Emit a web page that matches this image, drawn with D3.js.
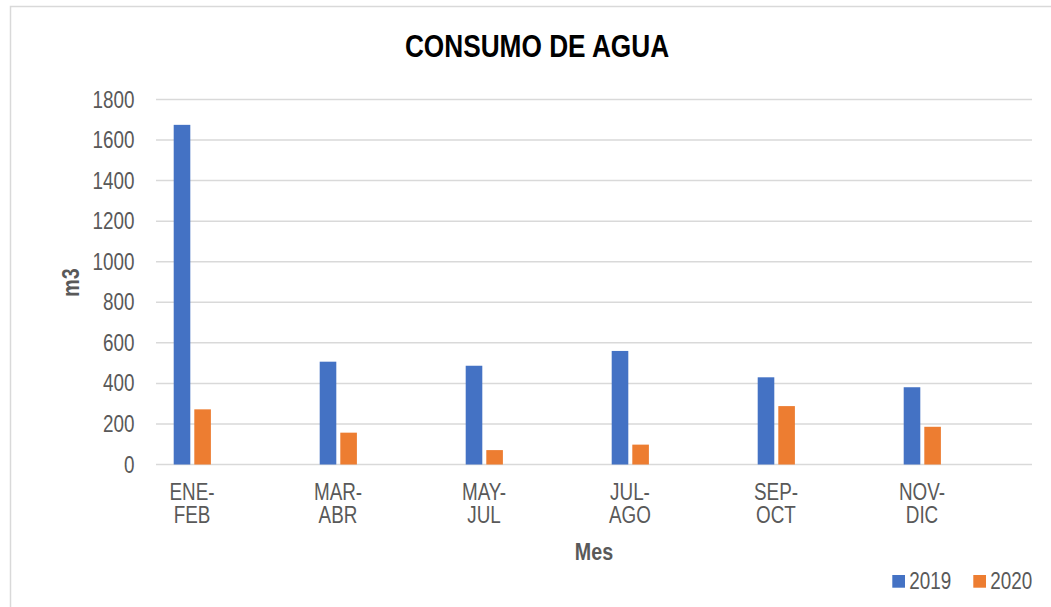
<!DOCTYPE html>
<html>
<head>
<meta charset="utf-8">
<script src="https://cdn.jsdelivr.net/npm/d3@7"></script>
<style>
  html, body { margin: 0; padding: 0; background: #fff; }
  svg { display: block; font-family: "Liberation Sans", Arial, sans-serif; }
</style>
</head>
<body>
<div id="container"></div>
<script>
// data
const months = [["ENE-", "FEB"], ["MAR-", "ABR"], ["MAY-", "JUL"], ["JUL-", "AGO"], ["SEP-", "OCT"], ["NOV-", "DIC"]];
const years = ["2019", "2020"];
const values2019 = [1675, 507, 487, 560, 430, 381];
const values2020 = [272, 157, 71, 98, 288, 186];
const yTicks = [0, 200, 400, 600, 800, 1000, 1200, 1400, 1600, 1800];
const colors = ["#4472c4", "#ed7d31"];

const width = 1051, height = 607;
const margin = {top: 99.5, right: 19, bottom: 142.5, left: 156};
const narrow = 0.82; // Arial Narrow look

const svg = d3.select("#container").append("svg")
    .attr("width", width)
    .attr("height", height);

// chart frame
svg.append("rect")
    .attr("x", 10.5).attr("y", 6.5)
    .attr("width", 1100).attr("height", 700)
    .attr("fill", "#fff")
    .attr("stroke", "#d9d9d9")
    .attr("stroke-width", 1.5);

const keys = months.map(d => d.join(""));
const x = d3.scalePoint(keys, [192, 922]);
const y = d3.scaleLinear([0, 1800], [height - margin.bottom, margin.top]);

// narrow text helper
function label(g, str, tx, ty, opts) {
  const o = Object.assign({size: 23, weight: "normal", anchor: "middle", fill: "#595959", rotate: 0}, opts);
  return g.append("text")
      .attr("transform", `translate(${tx},${ty}) rotate(${o.rotate}) scale(${narrow},1)`)
      .attr("text-anchor", o.anchor)
      .attr("font-size", o.size)
      .attr("font-weight", o.weight)
      .attr("fill", o.fill)
      .text(str);
}

// grid
svg.append("g")
    .attr("stroke", "#d9d9d9")
    .attr("stroke-width", 1.5)
  .selectAll("line")
  .data(yTicks)
  .join("line")
    .attr("x1", margin.left)
    .attr("x2", width - margin.right)
    .attr("y1", d => y(d))
    .attr("y2", d => y(d));

// y tick labels
const yAxis = svg.append("g");
yTicks.forEach(t => label(yAxis, t, 134.5, y(t) + 8, {anchor: "end"}));

// bars
const series = [values2019, values2020];
const barW = 16.6;
const offsets = [-18.3, 2.3];
series.forEach((vals, s) => {
  svg.append("g")
      .attr("fill", colors[s])
    .selectAll("rect")
    .data(vals)
    .join("rect")
      .attr("x", (d, i) => x(keys[i]) + offsets[s])
      .attr("y", d => y(d))
      .attr("width", barW)
      .attr("height", d => y(0) - y(d));
});

// category labels
const xAxis = svg.append("g");
months.forEach((m, i) => {
  label(xAxis, m[0], x(keys[i]), 499.5);
  label(xAxis, m[1], x(keys[i]), 522.8);
});

// titles
label(svg, "CONSUMO DE AGUA", 537, 56.7, {size: 32, weight: "bold", fill: "#000"});
label(svg, "Mes", (margin.left + width - margin.right) / 2, 559.5, {size: 24, weight: "bold"});
label(svg, "m3", 78.5, 282.5, {size: 24, weight: "bold", rotate: -90});

// legend
const legend = svg.append("g");
const legendX = [892.3, 973.3];
years.forEach((yr, i) => {
  legend.append("rect")
      .attr("x", legendX[i]).attr("y", 575)
      .attr("width", 12.7).attr("height", 12.7)
      .attr("fill", colors[i]);
  label(legend, yr, legendX[i] + 17, 589.3, {anchor: "start"});
});
</script>
</body>
</html>
